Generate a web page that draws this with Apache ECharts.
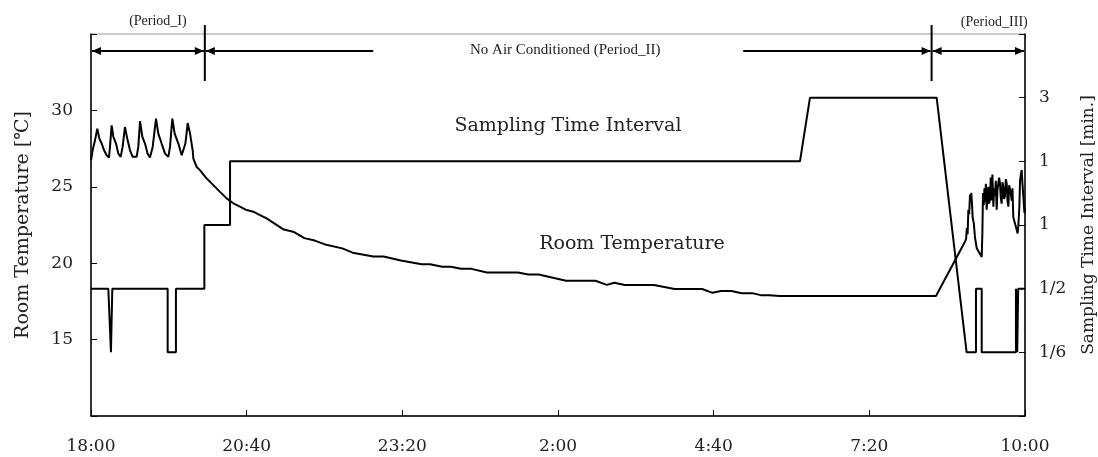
<!DOCTYPE html>
<html><head><meta charset="utf-8">
<script src="https://cdn.jsdelivr.net/npm/echarts@6/dist/echarts.min.js"></script>
<style>html,body{margin:0;padding:0;background:#fff}#c{width:1098px;height:457px}</style>
</head><body><div id="c"></div>
<script>
// minutes after 18:00
const xTickLabels = ['18:00','20:40','23:20','2:00','4:40','7:20','10:00'];
const intervalLabels = ['1/6','1/2','1','1','3'];

const tempTimes = [0,1.7,4.1,6.5,8.6,11.0,13.4,16.1,18.5,19.5,21.2,23.0,25.7,28.1,30.5,32.5,34.9,37.3,40.1,42.8,46.9,48.6,50.4,52.8,55.5,58.2,60.6,63.4,66.8,69.2,72.6,76.1,79.5,81.2,83.6,86.0,89.8,93.2,94.9,97.0,99.4,101.8,104.5,105.2,108.6,112.0,118.9,125.7,132.6,139.4,146.3,153.1,160.0,166.8,173.7,180.5,
  198.2,208.8,219.3,230.0,240.6,258.3,268.9,290.2,300.7,318.5,339.7,348.5,361.0,369.8,380.4,391.0,406.9,438.8,449.5,460.1,488.3,518.4,530.2,538.0,548.6,578.6,599.8,628.2,638.8,647.6,658.2,668.9,679.5,688.3,697.2,707.8,868.5,
  898.3,899.5,900.2,901.0,901.8,902.6,903.5,904.2,904.8,905.5,906.2,907.4,908.6,910.3,912.0,913.8,915.5,916.2,916.8,917.6,918.3,919.0,919.8,920.6,921.4,922.3,923.1,924.0,924.8,925.7,926.5,927.5,928.3,929.2,930.0,930.9,931.7,932.6,933.4,934.3,935.1,936.0,936.8,937.7,938.5,939.4,940.3,941.2,942.0,942.9,943.7,944.6,945.4,946.3,947.1,948.0,949.7,951.4,952.4,953.2,954.2,954.9,955.7,956.6,957.4,958.3,959.4,960];
const tempValues = [26.74,27.39,28.04,28.80,28.15,27.83,27.39,27.06,26.91,27.61,29.02,28.26,27.83,27.17,26.96,27.61,28.91,28.15,27.39,26.96,26.96,27.61,29.30,28.26,27.83,27.17,26.91,27.61,29.46,28.48,27.83,27.17,26.96,27.61,29.46,28.48,27.83,27.06,26.96,27.83,29.17,28.48,27.39,26.85,26.30,26.09,25.54,25.11,24.67,24.24,23.92,23.70,23.48,23.37,23.15,22.93,
  22.20,22.04,21.64,21.48,21.23,20.97,20.69,20.44,20.44,20.18,19.93,19.93,19.77,19.77,19.63,19.63,19.39,19.39,19.26,19.26,18.85,18.85,18.58,18.72,18.58,18.58,18.31,18.31,18.06,18.18,18.18,18.04,18.04,17.91,17.91,17.85,17.85,
  21.4,21.6,22.3,21.9,23.5,23.2,24.5,24.0,24.6,23.9,23.0,22.6,21.7,21.0,20.8,20.6,20.4,22.0,24.6,23.8,24.9,24.0,25.2,23.5,24.6,25.0,23.9,24.2,25.6,24.1,25.8,23.7,24.9,24.4,25.4,23.5,24.8,24.7,25.6,25.2,24.3,23.9,25.3,25.0,24.2,24.4,25.5,25.2,24.1,23.7,25.1,25.0,24.6,24.1,24.9,23.0,22.6,22.2,21.95,22.5,23.7,25.4,25.8,26.1,25.2,24.4,23.3,23.6];

// level index: 0=1/6, 1=1/2, 2=1, 3=1(upper), 4=3
const intervalTimes = [0,17.8,20.5,21.9,78.8,78.8,87.3,87.3,116.5,116.5,142.9,142.9,728.7,739.0,869.2,900.0,909.6,909.6,915.5,915.5,950.7,950.7,952.0,952.0,953.0,953.0,960];
const intervalLevels = [1,1,0,1,1,0,0,1,1,2,2,3,3,4,4,0,0,1,1,0,0,1,1,0,0,1,1];

const periodBounds = [0, 117, 864, 960];
const periodNames = ['(Period_I)', 'No Air Conditioned (Period_II)', '(Period_III)'];

const SERIF = "'DejaVu Serif','Liberation Serif',serif";
const LSERIF = "'Liberation Serif','DejaVu Serif',serif";
const chart = echarts.init(document.getElementById('c'), null, {renderer:'canvas'});
const option = {
  animation: false,
  backgroundColor: '#fff',
  grid: {left: 91, right: 73, top: 34, bottom: 41, containLabel: false, outerBoundsMode: 'none',
    show: true, borderColor: '#999', borderWidth: 1},
  xAxis: {
    type: 'value', min: 0, max: 960, interval: 160,
    axisLine: {onZero: false, lineStyle: {color: '#000', width: 1.5}},
    axisTick: {inside: true, length: 6, lineStyle: {color: '#000'}},
    splitLine: {show: false},
    axisLabel: {margin: 22, color: '#222', fontFamily: SERIF, fontSize: 17,
      formatter: v => xTickLabels[Math.round(v / 160)] || ''}
  },
  yAxis: [{
    type: 'value', min: 10, max: 35, interval: 5, position: 'left',
    name: 'Room Temperature [℃]', nameLocation: 'middle', nameGap: 58, nameRotate: 90,
    nameTextStyle: {fontFamily: SERIF, fontSize: 19, color: '#222'},
    axisLine: {show: true, onZero: false, lineStyle: {color: '#000', width: 1.5}},
    axisTick: {show: true, inside: true, length: 6, lineStyle: {color: '#000'}},
    splitLine: {show: false},
    axisLabel: {margin: 18, color: '#222', fontFamily: SERIF, fontSize: 17,
      formatter: v => (v === 10 || v === 35) ? '' : String(v)}
  }, {
    type: 'value', min: -1, max: 5, interval: 1, position: 'right',
    name: 'Sampling Time Interval [min.]', nameLocation: 'middle', nameGap: 55, nameRotate: 90,
    nameTextStyle: {fontFamily: SERIF, fontSize: 17, color: '#222'},
    axisLine: {show: true, onZero: false, lineStyle: {color: '#000', width: 1.5}},
    axisTick: {show: true, inside: true, length: 6, lineStyle: {color: '#000'}},
    splitLine: {show: false},
    axisLabel: {margin: 14, color: '#222', fontFamily: SERIF, fontSize: 17,
      formatter: v => intervalLabels[v] || ''}
  }],
  series: [{
    name: 'Room Temperature', type: 'line', yAxisIndex: 0, showSymbol: false, symbol: 'none',
    lineStyle: {color: '#000', width: 2}, z: 3,
    data: tempTimes.map((t, i) => [t, tempValues[i]])
  }, {
    name: 'Sampling Time Interval', type: 'line', yAxisIndex: 1, showSymbol: false, symbol: 'none',
    lineStyle: {color: '#000', width: 2}, z: 2,
    data: intervalTimes.map((t, i) => [t, intervalLevels[i]])
  }]
};
chart.setOption(option);

const px = t => chart.convertToPixel({xAxisIndex: 0}, t);
const yA = 51;
const els = [];
function seg(x1, x2) { els.push({type: 'line', shape: {x1, y1: yA, x2, y2: yA}, style: {stroke: '#000', lineWidth: 2}}); }
function head(x, dir) { // dir = -1 points left, 1 points right
  els.push({type: 'polygon', shape: {points: [[x, yA], [x - dir * 9, yA - 4], [x - dir * 9, yA + 4]]}, style: {fill: '#000'}});
}
function vline(x) { els.push({type: 'line', shape: {x1: x, y1: 25, x2: x, y2: 81}, style: {stroke: '#000', lineWidth: 2}}); }
function txt(x, y, s, size, fam) {
  els.push({type: 'text', x, y, style: {text: s, fontFamily: fam || SERIF, fontSize: size, fill: '#222', align: 'center', verticalAlign: 'middle'}});
}
const b = periodBounds.map(px);
// Period I
seg(b[0] + 1, b[1] - 1); head(b[0] + 1, -1); head(b[1] - 1, 1);
// Period II
const mid2 = (b[1] + b[2]) / 2 - 3;
seg(b[1] + 1, mid2 - 192); head(b[1] + 1, -1);
seg(mid2 + 178, b[2] - 1); head(b[2] - 1, 1);
// Period III
seg(b[2] + 1, b[3] - 1); head(b[2] + 1, -1); head(b[3] - 1, 1);
vline(b[1]); vline(b[2]);
txt((b[0] + b[1]) / 2 + 10, 21, periodNames[0], 14, LSERIF);
txt(mid2, 50, periodNames[1], 15, LSERIF);
txt((b[2] + b[3]) / 2 + 16, 22, periodNames[2], 14, LSERIF);
txt(568, 126, 'Sampling Time Interval', 19);
txt(632, 244, 'Room Temperature', 19);
chart.setOption({graphic: {elements: els}});
</script></body></html>
